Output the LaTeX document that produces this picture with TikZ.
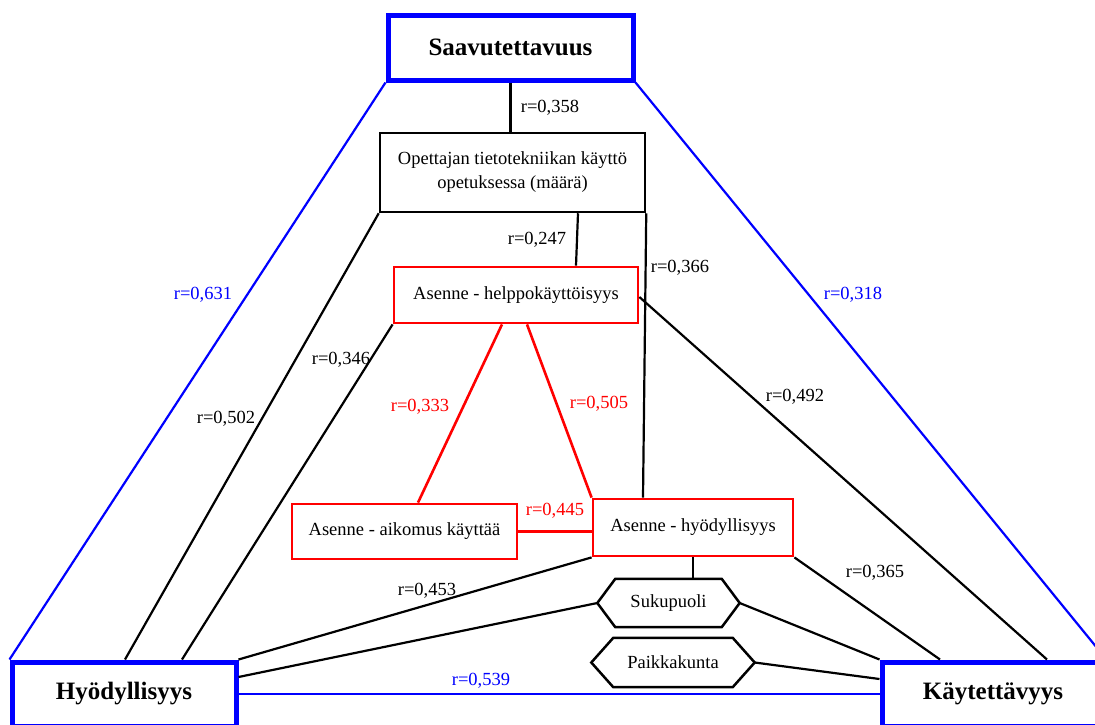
\documentclass[tikz,border=0pt]{standalone}
\usepackage{fontspec}
\setmainfont{Liberation Serif}
\usetikzlibrary{calc}
\definecolor{cblue}{RGB}{0,0,255}
\definecolor{cred}{RGB}{255,0,0}
\begin{document}
\begin{tikzpicture}[x=1pt,y=-1pt,
  txt/.style={font=\fontsize{18.5}{24}\selectfont},
  lbl/.style={font=\fontsize{18.5}{22}\selectfont, inner sep=0pt},
  titlebox/.style={draw=cblue, line width=5pt, font=\fontsize{25}{30}\selectfont\bfseries, inner sep=0pt, fill=white},
  redbox/.style={draw=cred, line width=2.8pt, txt, inner sep=0pt, fill=white},
  blackbox/.style={draw=black, line width=2.5pt, txt, inner sep=0pt, fill=white, align=center},
  hexbox/.style={txt, inner sep=0pt},
  hexline/.style={draw=black, line width=2.5pt, line join=miter},
  conn/.style={line width=2.2pt, black},
  bconn/.style={line width=2.2pt, cblue},
  rconn/.style={line width=2.6pt, cred},
  blbl/.style={lbl, text=cblue},
  rlbl/.style={lbl, text=cred},
]
\useasboundingbox (0,0) rectangle (1095,724);
\clip (0,0) rectangle (1095,724);

% nodes
\node[titlebox, minimum width=245, minimum height=65] (sav) at (510.5,47.5) {Saavutettavuus};
\node[blackbox, minimum width=265, minimum height=79] (opet) at (512.5,172.5) {Opettajan tietotekniikan käyttö\\opetuksessa (määrä)};
\node[redbox, minimum width=244, minimum height=56] (helppo) at (516,295) {Asenne - helppokäyttöisyys};
\node[redbox, minimum width=225, minimum height=55] (aikomus) at (404.5,531.5) {Asenne - aikomus käyttää};
\node[redbox, minimum width=200, minimum height=57] (ahyod) at (693,527.5) {Asenne - hyödyllisyys};
\node[titlebox, minimum width=224, minimum height=64] (hyod) at (124,694) {Hyödyllisyys};
\node[titlebox, minimum width=222, minimum height=64] (kayt) at (993,694) {Käytettävyys};
\node[hexbox, minimum width=142, minimum height=48] (suk) at (668.5,603) {Sukupuoli};
\node[hexbox, minimum width=163, minimum height=49] (paik) at (673,662.5) {Paikkakunta};

\draw[hexline] (suk.west) -- ([xshift=18pt]suk.north west) -- ([xshift=-18pt]suk.north east) -- (suk.east) -- ([xshift=-18pt]suk.south east) -- ([xshift=18pt]suk.south west) -- cycle;
\draw[hexline] (paik.west) -- ([xshift=22pt]paik.north west) -- ([xshift=-22pt]paik.north east) -- (paik.east) -- ([xshift=-22pt]paik.south east) -- ([xshift=22pt]paik.south west) -- cycle;

% blue connectors
\draw[bconn] (sav.south west) -- (hyod.north west);
\draw[bconn] (sav.south east) -- (kayt.north east);
\draw[bconn] (hyod.east) -- (kayt.west);

% black connectors
\draw[conn] (sav.south) -- (sav.south |- opet.north);
\draw[conn] ([xshift=65.5pt]opet.south) -- ([xshift=60pt]helppo.north);
\draw[conn] (opet.south east) -- ([xshift=-50pt]ahyod.north);
\draw[conn] (opet.south west) -- ([xshift=1pt]hyod.north);
\draw[conn] (helppo.south west) -- ([xshift=58pt]hyod.north);
\draw[conn] ([yshift=-2pt]helppo.east) -- ([xshift=54pt]kayt.north);
\draw[conn] (hyod.north east) -- (ahyod.south west);
\draw[conn] ([yshift=17pt]hyod.east) -- (suk.west);
\draw[conn] (ahyod.south) -- (ahyod.south |- suk.north);
\draw[conn] (ahyod.south east) -- ([xshift=-53pt]kayt.north);
\draw[conn] (suk.east) -- (kayt.north west);
\draw[conn] (paik.east) -- ([yshift=15pt]kayt.west);

% red connectors
\draw[rconn] ([xshift=-14pt]helppo.south) -- ([xshift=13.5pt]aikomus.north);
\draw[rconn] ([xshift=11pt]helppo.south) -- (ahyod.north west);
\draw[rconn] (aikomus.east) -- (aikomus.east -| ahyod.west);

% labels
\node[lbl] (l358) at (550,108) {r=0,358};
\node[lbl] (l247) at (537,240) {r=0,247};
\node[lbl] (l366) at (680,268) {r=0,366};
\node[blbl] (l631) at (203,295) {r=0,631};
\node[blbl] (l318) at (853,295) {r=0,318};
\node[lbl] (l346) at (341,360) {r=0,346};
\node[lbl] (l502) at (226,419) {r=0,502};
\node[lbl] (l492) at (795,397) {r=0,492};
\node[rlbl] (l333) at (420,407) {r=0,333};
\node[rlbl] (l505) at (599,404) {r=0,505};
\node[rlbl] (l445) at (555,511) {r=0,445};
\node[lbl] (l453) at (427,591) {r=0,453};
\node[lbl] (l365) at (875,573) {r=0,365};
\node[blbl] (l539) at (481,681) {r=0,539};
\end{tikzpicture}
\end{document}
